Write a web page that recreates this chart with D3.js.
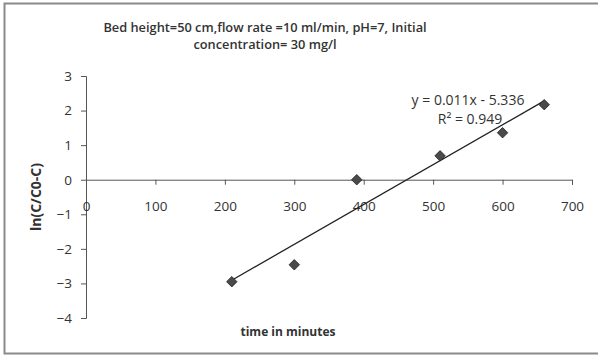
<html>
<head>
  <script src="https://d3js.org/d3.v7.min.js"></script>
  <style>
    body { margin: 0; background: #fff; }
    svg text { font-family: "Open Sans", sans-serif; fill: #333; }
  </style>
</head>
<body>
  <svg id="root" width="598" height="360"></svg>
  <script>
    // values
    var times = [210, 300, 390, 510, 600, 660];
    var lnValues = [-2.95, -2.46, 0, 0.69, 1.36, 2.17];
    var xTicks = [0, 100, 200, 300, 400, 500, 600, 700];
    var yTicks = [-4, -3, -2, -1, 0, 1, 2, 3];
    var titleLines = ['Bed height=50 cm,flow rate =10 ml/min, pH=7, Initial', 'concentration= 30 mg/l'];
    var equationLines = ['y = 0.011x - 5.336', 'R² = 0.949'];

    var svg = d3.select('#root');

    // chart frame
    svg.append('rect')
      .attr('x', 4.5).attr('y', 3.5)
      .attr('width', 620).attr('height', 350)
      .attr('fill', 'none')
      .attr('stroke', '#8a8a8a')
      .attr('stroke-width', 2);

    var x = d3.scaleLinear().domain([0, 700]).range([86, 572]);
    var y = d3.scaleLinear().domain([-4, 3]).range([318, 76]);

    svg.selectAll('.title')
      .data(titleLines)
      .enter().append('text')
      .attr('x', 265)
      .attr('y', function (d, i) { return 32 + i * 17; })
      .attr('text-anchor', 'middle')
      .style('font-size', '12.8px')
      .style('font-weight', 600)
      .text(function (d) { return d; });

    // y axis on the left
    var yAxis = svg.append('g')
      .attr('transform', 'translate(' + x(0) + ',0)')
      .call(d3.axisLeft(y).tickValues(yTicks).tickSize(5).tickPadding(9).tickFormat(d3.format('d')));

    // x axis crossing at y = 0
    var xAxis = svg.append('g')
      .attr('transform', 'translate(0,' + y(0) + ')')
      .call(d3.axisBottom(x).tickValues(xTicks).tickSize(5).tickPadding(17).tickSizeOuter(5));

    [xAxis, yAxis].forEach(function (g) {
      g.selectAll('path, line').attr('stroke', '#555');
      g.selectAll('text').style('font-size', '13.5px').style('font-family', '"Open Sans", sans-serif').attr('fill', '#444');
    });

    // least squares trendline over the data range
    var mx = d3.mean(times), my = d3.mean(lnValues);
    var sxy = d3.sum(times, function (t, i) { return (t - mx) * (lnValues[i] - my); });
    var sxx = d3.sum(times, function (t) { return (t - mx) * (t - mx); });
    var slope = sxy / sxx, intercept = my - slope * mx;
    var ends = d3.extent(times);

    svg.append('path')
      .datum(ends)
      .attr('fill', 'none')
      .attr('stroke', '#222')
      .attr('stroke-width', 1.3)
      .attr('d', d3.line()
        .x(function (d) { return x(d); })
        .y(function (d) { return y(slope * d + intercept); }));

    svg.selectAll('.pt')
      .data(times)
      .enter().append('path')
      .attr('class', 'pt')
      .attr('transform', function (d, i) { return 'translate(' + x(d) + ',' + y(lnValues[i]) + ')'; })
      .attr('d', d3.symbol().type(d3.symbolDiamond2).size(70))
      .attr('fill', '#4a4a4a')
      .attr('stroke', '#222')
      .attr('stroke-width', 0.8);

    svg.selectAll('.eq')
      .data(equationLines)
      .enter().append('text')
      .attr('x', function (d, i) { return i === 0 ? 468 : 470; })
      .attr('y', function (d, i) { return 105 + i * 19; })
      .attr('text-anchor', 'middle')
      .style('font-size', '14px')
      .attr('fill', '#444')
      .text(function (d) { return d; });

    svg.append('text')
      .attr('transform', 'translate(41,197) rotate(-90)')
      .attr('text-anchor', 'middle')
      .style('font-size', '14px')
      .style('font-weight', 700)
      .text('ln(C/C0-C)');

    svg.append('text')
      .attr('x', 288)
      .attr('y', 336)
      .attr('text-anchor', 'middle')
      .style('font-size', '12px')
      .style('font-weight', 700)
      .text('time in minutes');
  </script>
</body>
</html>
